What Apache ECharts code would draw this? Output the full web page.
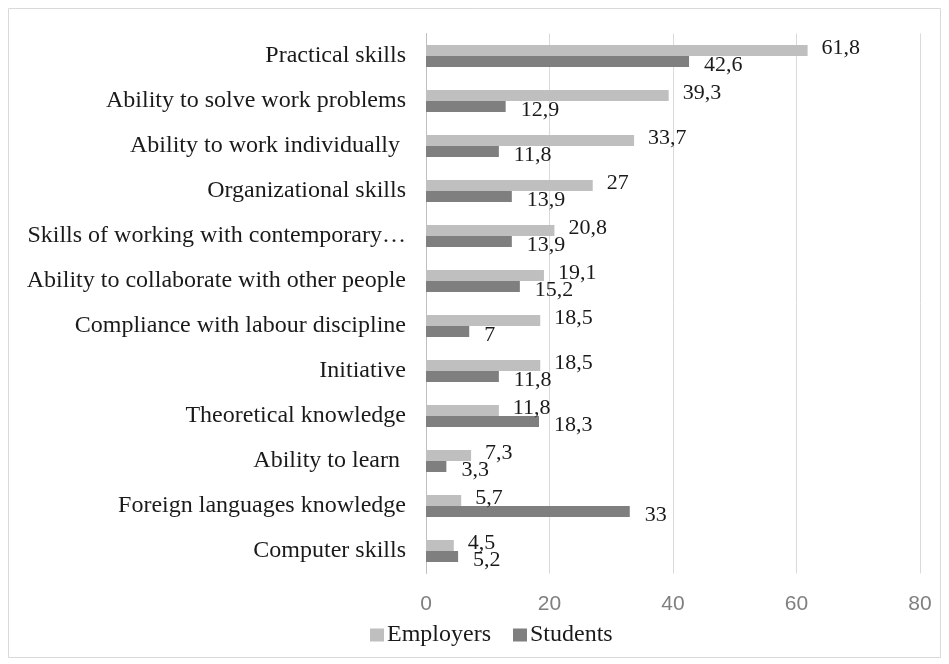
<!DOCTYPE html>
<html>
<head>
<meta charset="utf-8">
<script src="https://cdn.jsdelivr.net/npm/echarts@6/dist/echarts.min.js"></script>
<style>
  html, body { margin: 0; padding: 0; background: #fff; }
  #chart { width: 949px; height: 664px; }
</style>
</head>
<body>
<div id="chart"></div>
<script>
const categories = [
  'Practical skills',
  'Ability to solve work problems',
  'Ability to work individually ',
  'Organizational skills',
  'Skills of working with contemporary…',
  'Ability to collaborate with other people',
  'Compliance with labour discipline',
  'Initiative',
  'Theoretical knowledge',
  'Ability to learn ',
  'Foreign languages knowledge',
  'Computer skills'
];
const employers = [61.8, 39.3, 33.7, 27, 20.8, 19.1, 18.5, 18.5, 11.8, 7.3, 5.7, 4.5];
const students = [42.6, 12.9, 11.8, 13.9, 13.9, 15.2, 7, 11.8, 18.3, 3.3, 33, 5.2];
const xTicks = { min: 0, max: 80, interval: 20 };

const serif = '"Liberation Serif", "DejaVu Serif", serif';
// decimal comma, as in the source
const fmt = p => String(p.value).replace('.', ',');

const chart = echarts.init(document.getElementById('chart'));
chart.setOption({
  animation: false,
  graphic: [{
    type: 'rect',
    shape: { x: 8.5, y: 8.5, width: 932, height: 649 },
    style: { fill: 'none', stroke: '#d9d9d9', lineWidth: 1 }
  }],
  grid: { left: 426, right: 29, top: 33.5, bottom: 90.5 },
  legend: {
    left: 365,
    top: 618,
    itemWidth: 14,
    itemHeight: 13,
    itemGap: 22,
    icon: 'rect',
    textStyle: { fontFamily: serif, fontSize: 24, color: '#1a1a1a', padding: [0, 0, 0, -2] },
    data: ['Employers', 'Students']
  },
  xAxis: {
    type: 'value',
    min: xTicks.min,
    max: xTicks.max,
    interval: xTicks.interval,
    axisLine: { show: false },
    axisTick: { show: false },
    splitLine: { lineStyle: { color: '#d9d9d9', width: 1 } },
    axisLabel: {
      margin: 20,
      fontFamily: '"Liberation Sans", sans-serif',
      fontSize: 21,
      color: '#7f7f7f'
    }
  },
  yAxis: {
    type: 'category',
    inverse: true,
    data: categories,
    axisLine: { lineStyle: { color: '#bfbfbf' } },
    axisTick: { show: false },
    axisLabel: {
      margin: 20,
      padding: [4, 0, 0, 0],
      fontFamily: serif,
      fontSize: 24,
      color: '#1a1a1a'
    }
  },
  series: [
    {
      name: 'Employers',
      type: 'bar',
      data: employers,
      barGap: '0%',
      barCategoryGap: '51%',
      itemStyle: { color: '#bfbfbf' },
      label: {
        show: true,
        position: 'right',
        distance: 14,
        offset: [0, -2],
        formatter: fmt,
        fontFamily: serif,
        fontSize: 22,
        color: '#1a1a1a'
      }
    },
    {
      name: 'Students',
      type: 'bar',
      data: students,
      barGap: '0%',
      barCategoryGap: '51%',
      itemStyle: { color: '#7f7f7f' },
      label: {
        show: true,
        position: 'right',
        distance: 15,
        offset: [0, 4],
        formatter: fmt,
        fontFamily: serif,
        fontSize: 22,
        color: '#1a1a1a'
      }
    }
  ]
});
</script>
</body>
</html>
